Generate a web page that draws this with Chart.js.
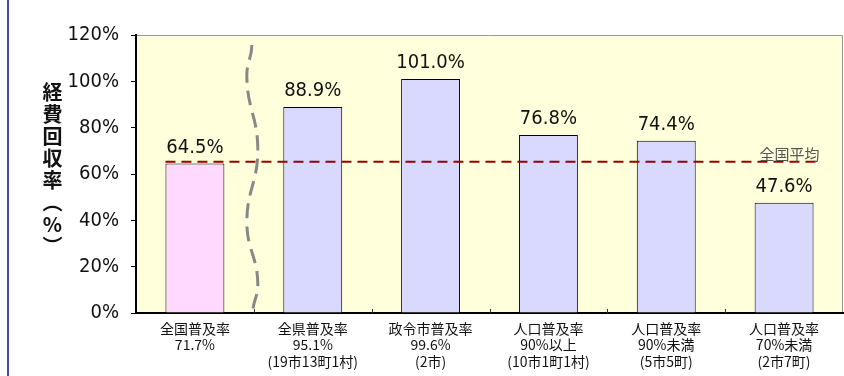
<!DOCTYPE html>
<html>
<head>
<meta charset="utf-8">
<script src="https://cdn.jsdelivr.net/npm/chart.js@4/dist/chart.umd.min.js"></script>
<style>
  body { margin: 0; background: #fff; }
  #wrap { position: relative; width: 844px; height: 376px; }
  #side { position: absolute; left: 7px; top: 0; width: 2px; height: 376px; background: #4848b0; }
  #ytitle {
    position: absolute; left: 40px; top: 82px;
    writing-mode: vertical-rl; text-orientation: upright;
    font-family: "Noto Sans CJK JP"; font-size: 20px; font-weight: bold;
    line-height: 24px; letter-spacing: 2px; color: #111;
  }
</style>
</head>
<body>
<div id="wrap">
  <div id="side"></div>
  <canvas id="myChart" width="844" height="376"></canvas>
  <div id="ytitle">経費回収率（%）</div>
</div>
<script>
// chart data
var categories = [
  ["全国普及率", "71.7%"],
  ["全県普及率", "95.1%", "(19市13町1村)"],
  ["政令市普及率", "99.6%", "(2市)"],
  ["人口普及率", "90%以上", "(10市1町1村)"],
  ["人口普及率", "90%未満", "(5市5町)"],
  ["人口普及率", "70%未満", "(2市7町)"]
];
var recoveryRate = [64.5, 88.9, 101.0, 76.8, 74.4, 47.6];
var barColors = ["#ffd9ff", "#d9d9ff", "#d9d9ff", "#d9d9ff", "#d9d9ff", "#d9d9ff"];
var nationalAverage = 65.3;
var averageLabel = "全国平均";
var yTicks = [0, 20, 40, 60, 80, 100, 120];

var numFont = "'DejaVu Sans Condensed', 'Noto Sans CJK JP', sans-serif";

// wavy break mark: [x offset from gap centre, fraction of plot height from top]
var breakShape = [[-2, 0.036], [-7, 0.144], [4, 0.414], [-7, 0.673], [4, 0.899], [-1, 1.0]];

// plot background, value labels, average line, break mark
var extras = {
  id: 'extras',
  beforeDraw: function(chart) {
    var a = chart.chartArea, ctx = chart.ctx;
    ctx.save();
    ctx.fillStyle = "#ffffdc";
    ctx.fillRect(a.left, a.top, a.right - a.left, a.bottom - a.top);
    ctx.strokeStyle = "#999";
    ctx.lineWidth = 1;
    ctx.beginPath();
    ctx.moveTo(a.left, a.top + 0.5);
    ctx.lineTo(a.right - 0.5, a.top + 0.5);
    ctx.lineTo(a.right - 0.5, a.bottom);
    ctx.stroke();
    ctx.restore();
  },
  afterDatasetsDraw: function(chart) {
    var ctx = chart.ctx, x = chart.scales.x, y = chart.scales.y, a = chart.chartArea;
    var meta = chart.getDatasetMeta(0);
    ctx.save();
    // value labels
    ctx.fillStyle = "#111";
    ctx.font = "20px " + numFont;
    ctx.textAlign = "center";
    ctx.textBaseline = "bottom";
    for (var i = 0; i < recoveryRate.length; i++) {
      var bar = meta.data[i];
      ctx.fillText(recoveryRate[i].toFixed(1) + "%", bar.x, bar.y - 6);
    }
    // average line
    var half = meta.data[0].width / 2;
    var yy = y.getPixelForValue(nationalAverage);
    ctx.strokeStyle = "#990000";
    ctx.lineWidth = 2;
    ctx.setLineDash([10, 6]);
    ctx.beginPath();
    ctx.moveTo(meta.data[0].x - half, yy);
    ctx.lineTo(meta.data[5].x + half + 6, yy);
    ctx.stroke();
    ctx.setLineDash([]);
    ctx.fillStyle = "#555";
    ctx.font = "15px 'Noto Sans CJK JP'";
    ctx.textAlign = "right";
    ctx.textBaseline = "bottom";
    ctx.fillText(averageLabel, meta.data[5].x + half + 6, yy);
    // break mark between first and second category
    var bx = (x.getPixelForValue(0) + x.getPixelForValue(1)) / 2;
    var h = a.bottom - a.top;
    ctx.strokeStyle = "#888";
    ctx.lineWidth = 3;
    ctx.setLineDash([15, 8]);
    ctx.beginPath();
    var p0 = breakShape[0];
    ctx.moveTo(bx + p0[0], a.top + p0[1] * h);
    for (var k = 1; k < breakShape.length; k++) {
      var pa = breakShape[k - 1], pb = breakShape[k];
      var ya = a.top + pa[1] * h, yb = a.top + pb[1] * h, d = (yb - ya) * 0.45;
      ctx.bezierCurveTo(bx + pa[0], ya + d, bx + pb[0], yb - d, bx + pb[0], yb);
    }
    ctx.stroke();
    ctx.setLineDash([]);
    // small inward ticks at category boundaries
    ctx.strokeStyle = "#333";
    ctx.lineWidth = 1;
    var step = x.getPixelForValue(1) - x.getPixelForValue(0);
    for (var j = 1; j < categories.length; j++) {
      var tx = Math.round(x.getPixelForValue(j) - step / 2) + 0.5;
      ctx.beginPath();
      ctx.moveTo(tx, a.bottom);
      ctx.lineTo(tx, a.bottom - 4);
      ctx.stroke();
    }
    ctx.restore();
  }
};

var ctx = document.getElementById('myChart').getContext('2d');
var chart = new Chart(ctx, {
  type: 'bar',
  data: {
    labels: categories,
    datasets: [{
      data: recoveryRate,
      backgroundColor: barColors,
      borderColor: "#000",
      borderWidth: 1,
      barPercentage: 0.5,
      categoryPercentage: 1.0
    }]
  },
  options: {
    responsive: false,
    animation: false,
    layout: { padding: { left: 0, right: 1, top: 35, bottom: 0 } },
    plugins: { legend: { display: false }, tooltip: { enabled: false } },
    scales: {
      x: {
        grid: { display: false },
        border: { color: "#000", width: 2 },
        ticks: {
          color: "#111",
          font: { family: "'Noto Sans CJK JP'", size: 14, lineHeight: 1.15 },
          maxRotation: 0,
          autoSkip: false,
          padding: 0
        },
        afterFit: function(s) { s.height = 63; }
      },
      y: {
        min: 0, max: 120,
        afterBuildTicks: function(s) { s.ticks = yTicks.map(function(v) { return { value: v }; }); },
        grid: { drawOnChartArea: false, color: "#000", tickLength: 5 },
        border: { color: "#000", width: 2 },
        ticks: {
          color: "#111",
          font: { family: numFont, size: 20 },
          padding: 12,
          callback: function(v) { return v + "%"; }
        },
        afterFit: function(s) { s.width = 136; }
      }
    }
  },
  plugins: [extras]
});
</script>
</body>
</html>
